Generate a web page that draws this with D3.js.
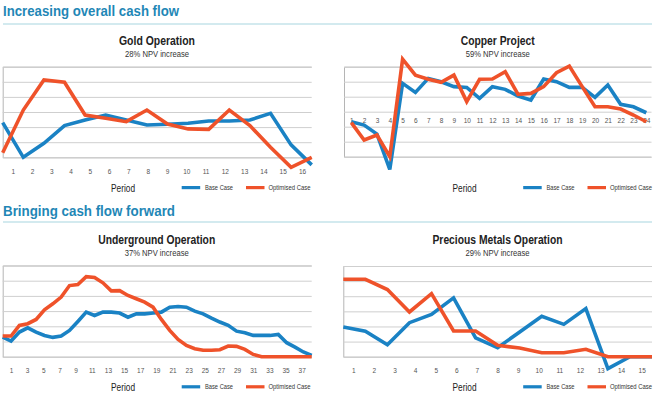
<!DOCTYPE html>
<html><head><meta charset="utf-8">
<script src="https://cdn.jsdelivr.net/npm/d3@7"></script>
<style>body{margin:0;background:#fff}svg{display:block}</style>
</head><body>
<svg id="c" width="658" height="400"></svg>
<script>
// ---- data ----
const goldPeriods = [1,2,3,4,5,6,7,8,9,10,11,12,13,14,15,16];
const goldBase = [2.3,0,0.93,2.1,2.47,2.8,2.47,2.14,2.19,2.25,2.4,2.4,2.47,2.91,0.82,-0.5];
const goldOpt  = [0.3,3.13,5.12,4.97,2.8,2.58,2.36,3.13,2.2,1.88,1.85,3.13,2.1,0.66,-0.66,0];

const copperPeriods = [1,2,3,4,5,6,7,8,9,10,11,12,13,14,15,16,17,18,19,20,21,22,23,24];
const copperBase = [-0.67,-0.89,-1.49,-3.85,1.89,1.29,2.22,2.0,1.67,1.62,0.89,1.67,1.49,1.04,0.78,2.18,2.0,1.62,1.62,0.96,1.78,0.49,0.33,-0.07];
const copperOpt  = [-0.73,-1.89,-1.56,-3.0,3.5,2.44,2.16,1.96,2.44,0.67,2.16,2.18,2.67,1.16,1.22,1.67,2.6,3.04,1.67,0.33,0.33,0.18,-0.22,-0.67];

const ugPeriods = [1,2,3,4,5,6,7,8,9,10,11,12,13,14,15,16,17,18,19,20,21,22,23,24,25,26,27,28,29,30,31,32,33,34,35,36,37,38];
const ugTickLabels = [1,3,5,7,9,11,13,15,17,19,21,23,25,27,29,31,33,35,37];
const ugBase = [1.29,1.03,1.62,1.9,1.62,1.4,1.27,1.36,1.73,2.32,2.93,2.71,2.93,2.93,2.87,2.6,2.82,2.82,2.87,2.93,3.26,3.3,3.26,3.0,2.82,2.54,2.28,2.06,1.68,1.58,1.4,1.4,1.4,1.47,0.92,0.63,0.31,0.09];
const ugOpt  = [1.36,1.36,2.06,2.17,2.45,3.09,3.48,3.92,4.68,4.75,5.27,5.21,4.86,4.33,4.35,4.03,3.81,3.59,3.26,2.45,1.73,1.14,0.74,0.53,0.42,0.42,0.46,0.7,0.68,0.48,0.15,0,0,0,0,0,0,0];

const pmPeriods = [1,2,3,4,5,6,7,8,9,10,11,12,13,14,15];
const pmBase = [1.96,1.68,0.79,2.25,2.8,3.89,1.24,0.6,1.63,2.67,2.14,3.18,-0.79,0,0];
const pmOpt  = [5.12,5.12,4.44,2.96,4.17,1.7,1.7,0.75,0.57,0.26,0.26,0.49,0,0,0];

const seriesNames = ["Base Case", "Optimised Case"];
const headings = ["Increasing overall cash flow", "Bringing cash flow forward"];

// ---- style ----
const BLUE = "#1a82c4", ORANGE = "#ef522a", TEAL = "#1f87b6", RULE = "#a8d6df";
const FONT = "'Liberation Sans Narrow','Arial Narrow','Liberation Sans',sans-serif";

const svg = d3.select("#c");

function fitText(sel, w) {
  return sel.attr("textLength", w).attr("lengthAdjust", "spacingAndGlyphs");
}

// headings and rules
[[headings[0], 16, 24, 176],[headings[1], 216, 222, 172]].forEach(([t, by, ry, w]) => {
  fitText(svg.append("text").attr("x", 3).attr("y", by).text(t)
    .attr("font-family", FONT).attr("font-weight", "bold").attr("font-size", 15.5)
    .attr("fill", TEAL), w);
  svg.append("line").attr("x1", 3).attr("x2", 652).attr("y1", ry).attr("y2", ry)
    .attr("stroke", RULE).attr("stroke-width", 1.2);
});

const panels = [
  {title:"Gold Operation", tw:76, sub:"28% NPV increase", cx:157, ty:45,
   periods:goldPeriods, ticks:goldPeriods, base:goldBase, opt:goldOpt,
   plotX:[2.7,311.7], lineX:[2.7,311.7], tickX:[12.7,302], tickY:174,
   yDom:[0,6], yRange:[157.3,66.7], dx:0, legY:187.5},
  {title:"Copper Project", tw:74, sub:"59% NPV increase", cx:497.7, ty:45,
   periods:copperPeriods, ticks:copperPeriods, base:copperBase, opt:copperOpt,
   plotX:[344,651.5], lineX:[351.3,646.3], tickX:[351.3,646.3], tickY:123,
   yDom:[-3,3], yRange:[156.7,66.7], dx:341.5, legY:187.5},
  {title:"Underground Operation", tw:117, sub:"37% NPV increase", cx:156.7, ty:243.5,
   periods:ugPeriods, ticks:ugTickLabels, base:ugBase, opt:ugOpt,
   plotX:[2.7,311.7], lineX:[2.7,311.7], tickX:[11,309.8], tickY:372.5,
   yDom:[0,6], yRange:[356.7,265.5], dx:0, legY:386.7},
  {title:"Precious Metals Operation", tw:130, sub:"29% NPV increase", cx:497.5, ty:243.5,
   periods:pmPeriods, ticks:pmPeriods, base:pmBase, opt:pmOpt,
   plotX:[343.3,652], lineX:[343.3,652], tickX:[353.3,641.7], tickY:372.5,
   yDom:[0,6], yRange:[356.7,266], dx:341.5, legY:386.7}
];

panels.forEach(p => {
  const g = svg.append("g");
  fitText(g.append("text").attr("x", p.cx).attr("y", p.ty).attr("text-anchor","middle")
    .attr("font-family", FONT).attr("font-weight","bold").attr("font-size", 12.5)
    .attr("fill","#222").text(p.title), p.tw);
  fitText(g.append("text").attr("x", p.cx).attr("y", p.ty + 12).attr("text-anchor","middle")
    .attr("font-family", FONT).attr("font-size", 9).attr("fill","#333").text(p.sub), 64);

  const y = d3.scaleLinear().domain(p.yDom).range(p.yRange);
  const x = d3.scalePoint().domain(p.periods).range(p.lineX);
  const xt = d3.scalePoint().domain(p.periods).range(p.tickX);

  // gridlines
  const yAxis = d3.axisLeft(y).ticks(6).tickSize(-(p.plotX[1]-p.plotX[0])).tickFormat("");
  const ga = g.append("g").attr("transform", `translate(${p.plotX[0]},0)`).call(yAxis);
  ga.selectAll(".tick line").attr("stroke","#cfcfcf").attr("stroke-width",1);
  ga.select(".domain").attr("stroke","#b5b5b5").attr("stroke-width",1);

  // tick labels
  const xAxis = d3.axisBottom(xt).tickValues(p.ticks).tickSize(0).tickPadding(0);
  const gx = g.append("g").attr("transform", `translate(0,${p.tickY})`).call(xAxis);
  gx.select(".domain").remove();
  gx.selectAll("text").attr("font-family", FONT).attr("font-size", 6.5).attr("fill","#555").attr("dy","0");

  // lines
  const line = d3.line().x((d,i) => x(p.periods[i])).y(d => y(d));
  g.append("path").datum(p.base).attr("d", line).attr("fill","none")
    .attr("stroke", BLUE).attr("stroke-width", 3.6).attr("stroke-linejoin","miter");
  g.append("path").datum(p.opt).attr("d", line).attr("fill","none")
    .attr("stroke", ORANGE).attr("stroke-width", 3.6).attr("stroke-linejoin","miter");

  // period label + legend
  fitText(g.append("text").attr("x", 123 + p.dx).attr("y", p.legY + 4.5).attr("text-anchor","middle")
    .attr("font-family", FONT).attr("font-size", 11.5).attr("fill","#222").text("Period"), 24);
  const leg = [[181.7, 205, BLUE, seriesNames[0], 28], [246, 268.5, ORANGE, seriesNames[1], 42]];
  leg.forEach(([sx, tx, col, name, w]) => {
    g.append("rect").attr("x", sx + p.dx).attr("y", p.legY - 1.5).attr("width", 18.5).attr("height", 3.2).attr("fill", col);
    fitText(g.append("text").attr("x", tx + p.dx).attr("y", p.legY + 2.4)
      .attr("font-family", FONT).attr("font-size", 6.4).attr("fill","#333").text(name), w);
  });
});
</script>
</body></html>
